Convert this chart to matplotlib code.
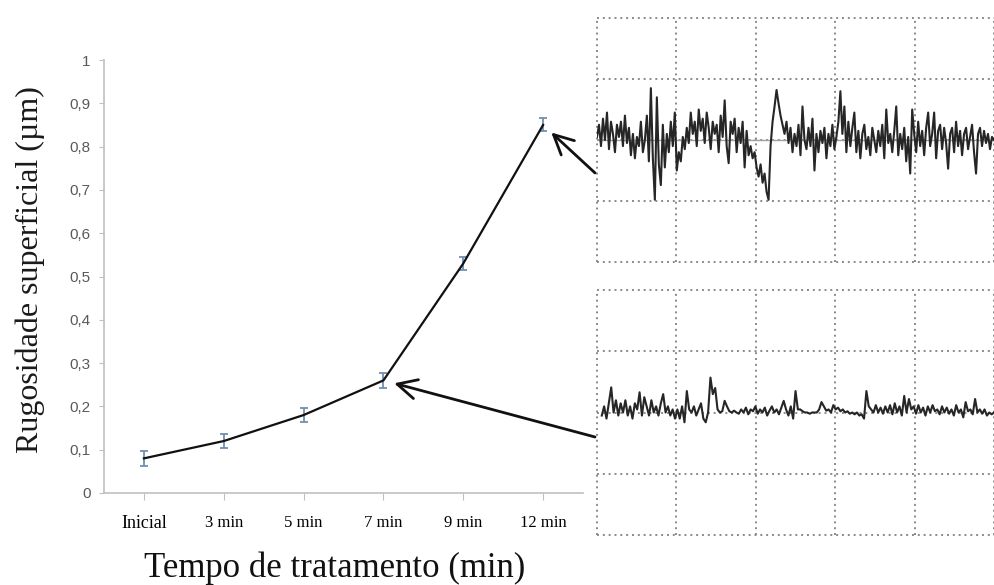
import numpy as np
import matplotlib
matplotlib.use('Agg')
import matplotlib.pyplot as plt

# mean roughness per treatment time
categories = ['Inicial', '3 min', '5 min', '7 min', '9 min', '12 min']
roughness = [0.08, 0.12, 0.18, 0.26, 0.53, 0.85]
roughness_err = [0.018, 0.017, 0.017, 0.017, 0.015, 0.015]
y_ticks = [0, 0.1, 0.2, 0.3, 0.4, 0.5, 0.6, 0.7, 0.8, 0.9, 1]
y_tick_labels = ['0', '0,1', '0,2', '0,3', '0,4', '0,5', '0,6', '0,7', '0,8', '0,9', '1']

# profilometer traces, in grid divisions
top_profile = [
    0.05, 0.25, -0.1, 0.35, 0.0, 0.45, -0.15, 0.3, 0.1, -0.2, 0.25, 0.05, 0.3, -0.1,
    0.4, -0.05, 0.2, -0.25, 0.1, -0.3, 0.05, -0.1, 0.3, -0.2, 0.0, 0.4, -0.35,
    0.85, -0.3, -0.98, 0.7, -0.4, -0.74, 0.25, -0.45, 0.1,
    -0.2, 0.3, -0.1, 0.45, -0.5, -0.2, -0.35, 0.05,
    -0.15, 0.2, -0.05, 0.45, 0.1, 0.3, -0.1, 0.5, 0.15, 0.35, -0.05, 0.45, 0.2, -0.15,
    0.3, 0.1, 0.25, -0.2, 0.4, 0.05, 0.65, -0.1, -0.38, 0.3, 0.1, 0.35, -0.2, 0.2,
    -0.05, 0.3, -0.45, 0.15, -0.25,
    -0.1, -0.3, -0.2, -0.45, -0.6, -0.4, -0.7, -0.55, -0.85, -0.98,
    -0.1, 0.3, 0.55, 0.82, 0.6, 0.4, 0.25, 0.1, 0.3,
    -0.05, 0.2, -0.2, 0.1, -0.1, 0.25, -0.25, 0.55, 0.0, -0.15, 0.2, -0.1, 0.35, -0.5,
    0.1, -0.2, 0.15, -0.05, 0.2, -0.3, 0.1, -0.1, 0.25, -0.15, 0.05,
    0.3, 0.8, 0.1, 0.55, -0.2, 0.3,
    -0.1, 0.2, 0.45, -0.2, 0.15, -0.3, 0.1, 0.25, -0.15, 0.05, -0.25, 0.2, 0.0, -0.2,
    0.15, -0.1, 0.25, -0.3, 0.5, -0.05, 0.1, -0.2, 0.15, 0.55, -0.25, 0.1, -0.15, 0.2,
    -0.35, 0.05, -0.55, 0.5, 0.1, -0.2, 0.3, -0.1, 0.15, -0.25, 0.2, 0.45, -0.1, 0.1,
    0.45, -0.3, 0.15, 0.25, -0.15, 0.2, -0.05, -0.47, 0.1, 0.2, -0.2, 0.3, -0.1, 0.15,
    -0.25, 0.1, 0.2, -0.15, 0.05, 0.25, -0.2, -0.55, 0.1, 0.2, -0.1, 0.15, -0.05, 0.1,
    -0.15, 0.05, 0.0,
]
bottom_profile = [
    -0.05, 0.1, -0.1, 0.15, 0.41, 0.0, 0.2, -0.05, 0.15, 0.0, 0.2, -0.05, 0.1, -0.1,
    0.15, 0.05, 0.33, -0.05, 0.25, 0.1, -0.05, 0.2, 0.0, 0.1, -0.05, 0.15, 0.3, 0.0,
    0.1, -0.05, 0.05, -0.1,
    0.05, -0.1, 0.1, -0.16, 0.35, 0.05, 0.0, 0.1, -0.05, 0.05, 0.15, -0.1, -0.16, 0.0,
    0.57, 0.3, 0.4,
    0.05, 0.0, 0.02, 0.19, 0.1, 0.02, 0.0, 0.03, 0.0, -0.02, 0.05, 0.0, 0.08, -0.03,
    0.05, 0.02, 0.1, -0.02, 0.05, 0.0, 0.08, -0.05, 0.03, 0.1, 0.0, 0.05, -0.03, 0.08,
    0.19, 0.05, -0.05, 0.1,
    -0.1, 0.35, 0.05,
    0.05, 0.02, 0.0, 0.0, -0.02, 0.0, 0.0, 0.0, 0.05, 0.17, 0.1, 0.03, 0.05, 0.0,
    0.12, 0.05, 0.08, 0.02, 0.05, 0.0, 0.02, -0.02, 0.0, -0.03, 0.0, -0.05, -0.03, -0.1,
    0.35, 0.1,
    0.05, 0.0, 0.12, 0.0, 0.08, -0.02, 0.1, 0.0, 0.12, -0.03, 0.15, 0.0, 0.1, -0.05,
    0.27, 0.0, 0.22, 0.05, 0.1, -0.02, 0.12, 0.0, 0.08, -0.05, 0.1, 0.0, 0.12, 0.02,
    0.05, -0.03, 0.1, 0.0, 0.08, -0.02, 0.05, -0.05, 0.12, 0.0, 0.05, -0.08, 0.17, 0.02,
    0.05, -0.03, 0.22, 0.0, 0.05, -0.02, 0.05, -0.05, 0.0, -0.03, 0.0,
]

W, H = 995, 585
serif = ['Liberation Serif', 'DejaVu Serif']

fig = plt.figure(figsize=(W / 100, H / 100), dpi=100)


def px_axes(x0, y0, x1, y1):
    # axes from pixel box (top-left origin)
    return fig.add_axes([x0 / W, (H - y1) / H, (x1 - x0) / W, (y1 - y0) / H])


# ---- roughness chart ----
ax = px_axes(104, 60, 583, 493)
ax.set_zorder(3)
ax.patch.set_alpha(0)
x = np.arange(len(categories)) + 0.5
ax.errorbar(x, roughness, yerr=roughness_err, color='#111111', lw=1.6,
            ecolor='#7090b0', elinewidth=1.3, capsize=3, capthick=1.3)
ax.set_xlim(0, 6)
ax.set_ylim(0, 1)
ax.set_xticks(x)
ax.set_xticklabels(categories, family=serif, fontsize=12)
ax.get_xticklabels()[0].set_fontsize(13)
ax.set_yticks(y_ticks)
ax.set_yticklabels(y_tick_labels, family=['Liberation Sans', 'DejaVu Sans'],
                   fontsize=11, color='#595959')
for s in ['top', 'right']:
    ax.spines[s].set_visible(False)
for s in ['left', 'bottom']:
    ax.spines[s].set_color('#c0c0c0')
    ax.spines[s].set_linewidth(1.2)
ax.tick_params(axis='x', length=5, color='#c0c0c0', pad=11)
ax.tick_params(axis='y', length=3.5, color='#c0c0c0', pad=6)

fig.text(30 / W, (H - 270) / H, 'Rugosidade superficial (µm)', rotation=90,
         ha='center', va='center', family=serif, fontsize=23, color='#1a1a1a')
fig.text(335 / W, (H - 568) / H, 'Tempo de tratamento (min)',
         ha='center', va='center', family=serif, fontsize=25, color='#111111')


# ---- profilometer panels ----
def profile_panel(box, profile, x_start, baseline):
    pa = px_axes(*box)
    pa.set_xlim(0, 5)
    pa.set_ylim(-2, 2)
    pa.set_axis_off()
    for v in range(6):
        pa.axvline(v, color='#8a8a8a', lw=1.4, ls=(0, (1, 2)), clip_on=False)
    for h in [-2, -1, 0, 1, 2]:
        pa.axhline(h, color='#8a8a8a', lw=1.4, ls=(0, (1, 2)), clip_on=False)
    if baseline:
        pa.axhline(0, color='#a0a0a0', lw=1.0)
    px = np.linspace(x_start, 5, len(profile))
    pa.plot(px, profile, color='#262626', lw=1.5)
    return pa


top_ax = profile_panel((597, 18, 994, 262), top_profile, 0.0, True)
bot_ax = profile_panel((597, 290, 994, 535), bottom_profile, 0.06, False)

arrow = dict(arrowstyle='->,head_length=0.7,head_width=0.35', color='#111111',
             lw=2, mutation_scale=20, shrinkA=0, shrinkB=8)
ax.annotate('', xy=(x[5], roughness[5]), xycoords='data',
            xytext=(-0.005, 0.365), textcoords=top_ax.transAxes,
            arrowprops=arrow, annotation_clip=False)
ax.annotate('', xy=(x[3], roughness[3]), xycoords='data',
            xytext=(-0.005, 0.40), textcoords=bot_ax.transAxes,
            arrowprops=arrow, annotation_clip=False)

fig.savefig('out.png', dpi=100)
